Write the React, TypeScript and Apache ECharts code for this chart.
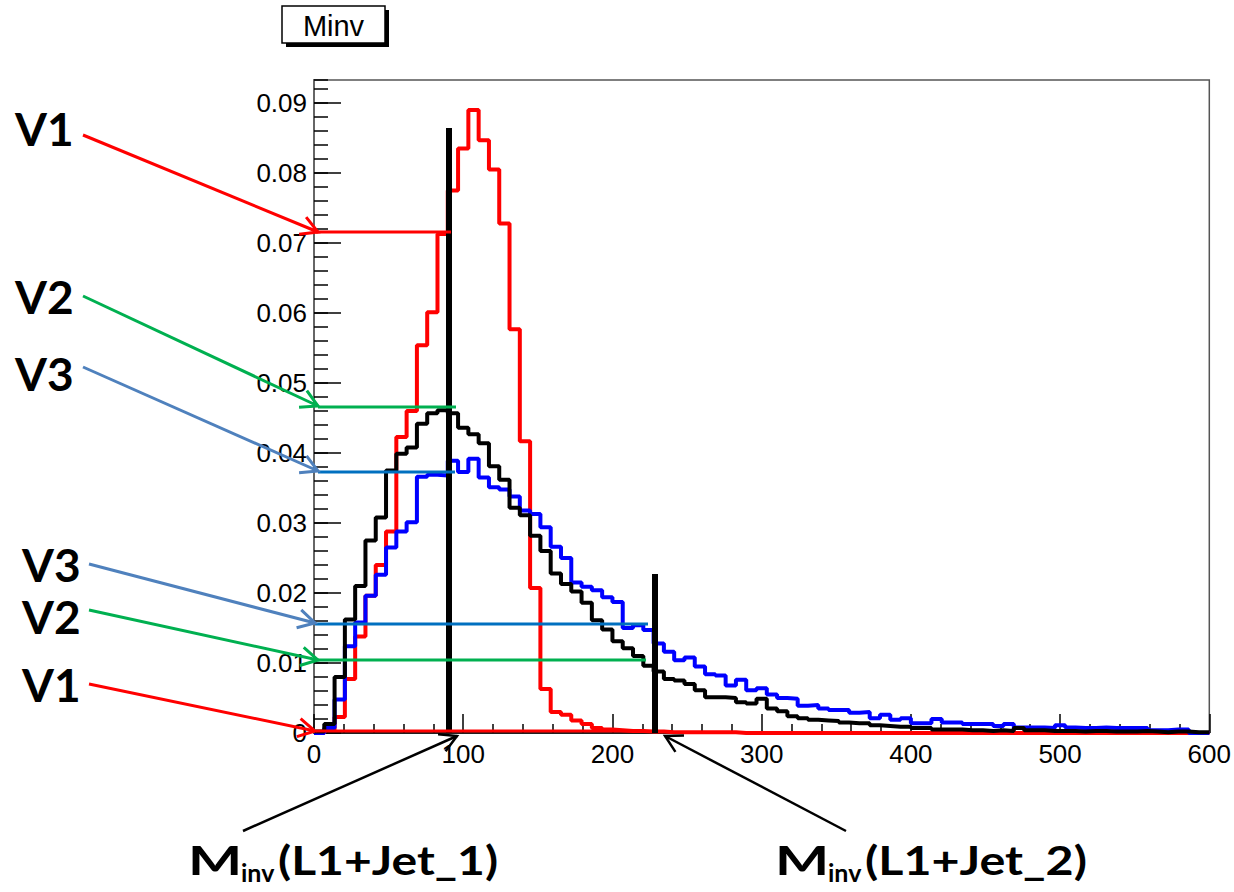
import React, { useEffect, useRef } from "react";
import * as echarts from "echarts";

const X_MIN = 0;
const X_MAX = 600;
const Y_MAX = 0.0933;
const X_INTERVAL = 100;
const Y_INTERVAL = 0.01;
const Y_MINOR_INTERVAL = 0.002;

// Histogram bin contents (87 equal bins over 0..600)
const redValues = [
  0, 0.0005, 0.0023, 0.0077, 0.0138, 0.0196, 0.024, 0.0288, 0.0423, 0.046,
  0.0554, 0.0601, 0.0713, 0.0775, 0.0835, 0.089, 0.0847, 0.0805, 0.0728, 0.0577,
  0.0417, 0.0207, 0.0063, 0.003, 0.0026, 0.0018, 0.0013, 0.0007, 0.0005, 0.0004,
  0.0003, 0.0003, 0.0002, 0.0002, 0.0001, 0.0001, 0.0001, 0.0001, 0.0001, 0.0001,
  0.0001, 0, 0, 0, 0, 0, 0, 0, 0, 0,
  0, 0, 0, 0, 0, 0, 0, 0, 0, 0,
  0, 0, 0, 0, 0, 0, 0, 0, 0, 0,
  0, 0, 0, 0, 0, 0, 0, 0, 0, 0,
  0, 0, 0, 0, 0, 0, 0,
];

const blackValues = [
  0.0002, 0.0013, 0.008, 0.0162, 0.021, 0.0275, 0.0308, 0.0375, 0.0399, 0.0408,
  0.0442, 0.0457, 0.0461, 0.0457, 0.0436, 0.0427, 0.0414, 0.0381, 0.0362, 0.0322,
  0.0311, 0.0282, 0.026, 0.0228, 0.0213, 0.0202, 0.0186, 0.0161, 0.0148, 0.0131,
  0.0121, 0.011, 0.0096, 0.0088, 0.0077, 0.0075, 0.007, 0.0061, 0.0051, 0.0051,
  0.005, 0.0044, 0.0042, 0.0049, 0.0035, 0.0031, 0.0024, 0.0021, 0.0019, 0.0018,
  0.0017, 0.0015, 0.0014, 0.0014, 0.0011, 0.001, 0.0009, 0.0009, 0.0007, 0.0007,
  0.0005, 0.0005, 0.0005, 0.0004, 0.0004, 0.0003, 0.0004, 0.0003, 0.0007, 0.0004,
  0.0004, 0.0003, 0.0003, 0.0003, 0.0002, 0.0003, 0.0003, 0.0002, 0.0002, 0.0002,
  0.0003, 0.0002, 0.0001, 0.0002, 0.0002, 0.0001, 0.0001,
];

const blueValues = [
  0, 0.0007, 0.0048, 0.0124, 0.0158, 0.0196, 0.0226, 0.0265, 0.0288, 0.0301,
  0.0366, 0.0369, 0.0368, 0.0389, 0.0373, 0.0392, 0.0365, 0.0351, 0.0348, 0.0338,
  0.0318, 0.0313, 0.0294, 0.0266, 0.025, 0.0215, 0.0209, 0.0204, 0.0194, 0.0187,
  0.015, 0.0154, 0.0147, 0.0128, 0.0116, 0.0104, 0.0108, 0.0095, 0.0084, 0.0082,
  0.0068, 0.0076, 0.0061, 0.0064, 0.0055, 0.005, 0.0049, 0.0039, 0.004, 0.0035,
  0.0033, 0.0033, 0.0029, 0.003, 0.0021, 0.0026, 0.0019, 0.0021, 0.0014, 0.0014,
  0.002, 0.0015, 0.0015, 0.0013, 0.0013, 0.0013, 0.001, 0.0013, 0.0008, 0.0008,
  0.0008, 0.0007, 0.0011, 0.0008, 0.0007, 0.0007, 0.0008, 0.0007, 0.0007, 0.0007,
  0.0007, 0.0004, 0.0004, 0.0005, 0.0005, 0, 0,
];

function histogram(values: number[]) {
  const w = (X_MAX - X_MIN) / values.length;
  const pts: number[][] = values.map((v, i) => [X_MIN + i * w, v]);
  pts.push([X_MAX, values[values.length - 1]]);
  return pts;
}

function arrow(x1: number, y1: number, x2: number, y2: number, color: string, width: number) {
  const ang = Math.atan2(y2 - y1, x2 - x1);
  const L = 19;
  const a = (29 * Math.PI) / 180;
  const p1 = [x2 - L * Math.cos(ang - a), y2 - L * Math.sin(ang - a)];
  const p2 = [x2 - L * Math.cos(ang + a), y2 - L * Math.sin(ang + a)];
  return [
    { type: "line", z: 100, shape: { x1, y1, x2, y2 }, style: { stroke: color, lineWidth: width } },
    { type: "polyline", z: 100, shape: { points: [p1, [x2, y2], p2] }, style: { stroke: color, lineWidth: width, fill: null } },
  ];
}

function hline(x1: number, x2: number, y: number, color: string, width: number) {
  return { type: "line", z: 100, shape: { x1, y1: y, x2, y2: y }, style: { stroke: color, lineWidth: width } };
}

function vlabel(text: string, x: number, y: number) {
  return {
    type: "text",
    z: 100,
    x,
    y,
    style: { text, fill: "#000", fontFamily: "Lato", fontWeight: "bold", fontSize: 46, align: "left", verticalAlign: "middle" },
  };
}

function minvLabel(x: number, parenX: number, parenScale: number, paren: string) {
  return [
    {
      type: "text", z: 100, x, y: 859, scaleX: 1.4,
      style: { text: "M", fill: "#000", fontFamily: "Lato", fontWeight: "bold", fontSize: 41, align: "left", verticalAlign: "middle" },
    },
    {
      type: "text", z: 100, x: x + 53, y: 872,
      style: { text: "inv", fill: "#000", fontFamily: "Lato", fontWeight: "bold", fontSize: 25, align: "left", verticalAlign: "middle" },
    },
    {
      type: "text", z: 100, x: parenX, y: 859, scaleX: parenScale,
      style: { text: paren, fill: "#000", fontFamily: "Lato", fontWeight: "bold", fontSize: 41, align: "left", verticalAlign: "middle" },
    },
  ];
}

const RED = "#ff0000";
const GREEN = "#00b050";
const STEEL = "#4f81bd";
const DBLUE = "#0070c0";

export default function App() {
  const ref = useRef<HTMLDivElement>(null);
  useEffect(() => {
    if (!ref.current) return;
    const chart = echarts.init(ref.current, undefined, { renderer: "svg" });
    const labelFont = { fontFamily: "Liberation Sans", fontSize: 26, color: "#000" };

    const graphics: any[] = [
      // title box
      { type: "rect", z: 100, shape: { x: 286, y: 10, width: 103, height: 37 }, style: { fill: "#000" } },
      { type: "rect", z: 101, shape: { x: 282, y: 6, width: 103, height: 37 }, style: { fill: "#fff", stroke: "#000", lineWidth: 1.5 } },
      {
        type: "text", z: 102, x: 333.5, y: 26,
        style: { text: "Minv", fill: "#000", fontFamily: "Liberation Sans", fontSize: 29, align: "center", verticalAlign: "middle" },
      },
      // vertical markers
      { type: "line", z: 100, shape: { x1: 449, y1: 128, x2: 449, y2: 733 }, style: { stroke: "#000", lineWidth: 6 } },
      { type: "line", z: 100, shape: { x1: 655, y1: 574, x2: 655, y2: 733 }, style: { stroke: "#000", lineWidth: 6 } },
      // horizontal reference lines
      hline(316, 451, 232, RED, 3),
      hline(318, 456, 407, GREEN, 3),
      hline(318, 455, 472, DBLUE, 3),
      hline(315, 648, 624, DBLUE, 3),
      hline(318, 646, 660, GREEN, 3),
      hline(316, 645, 731, RED, 3),
      // arrows
      ...arrow(83, 135, 318, 232, RED, 3),
      ...arrow(83, 296, 318, 406, GREEN, 3),
      ...arrow(83, 367, 318, 471, STEEL, 3),
      ...arrow(89, 564, 315, 623, STEEL, 3),
      ...arrow(89, 610, 318, 660, GREEN, 3),
      ...arrow(89, 684, 315, 731, RED, 3),
      ...arrow(243, 831, 457, 736, "#000", 2.5),
      ...arrow(846, 831, 665, 736, "#000", 2.5),
      // labels
      vlabel("V1", 15, 128.5),
      vlabel("V2", 15, 296.5),
      vlabel("V3", 15, 373.5),
      vlabel("V3", 22, 564),
      vlabel("V2", 22, 616.5),
      vlabel("V1", 22, 684),
      ...minvLabel(188, 278, 1.17, "(L1+Jet_1)"),
      ...minvLabel(775, 865, 1.18, "(L1+Jet_2)"),
    ];

    const lineSeries = (name: string, values: number[], color: string) => ({
      name,
      type: "line",
      step: "end",
      data: histogram(values),
      showSymbol: false,
      symbol: "none",
      clip: true,
      lineStyle: { color, width: 4 },
      itemStyle: { color },
    });

    chart.setOption({
      animation: false,
      backgroundColor: "#fff",
      grid: { left: 314, right: 21, top: 80, bottom: 159, show: true, borderColor: "#555", borderWidth: 1.5, backgroundColor: "transparent" },
      xAxis: {
        type: "value",
        min: X_MIN,
        max: X_MAX,
        interval: X_INTERVAL,
        axisLine: { show: true, onZero: false, lineStyle: { color: "#000", width: 1.5 } },
        axisTick: { show: true, inside: true, length: 19, lineStyle: { color: "#000", width: 1.5 } },
        minorTick: { show: true, splitNumber: 5, length: 9, lineStyle: { color: "#000", width: 1.5 } },
        axisLabel: { ...labelFont, margin: 8, formatter: (v: number) => String(Math.round(v)) },
        splitLine: { show: false },
        minorSplitLine: { show: false },
      },
      yAxis: [
        {
          type: "value",
          min: 0,
          max: Y_MAX,
          interval: Y_INTERVAL,
          axisLine: { show: true, onZero: false, lineStyle: { color: "#666", width: 2 } },
          axisTick: { show: true, inside: true, length: 27, lineStyle: { color: "#000", width: 1.5 } },
          axisLabel: {
            ...labelFont,
            margin: 7,
            showMaxLabel: false,
            formatter: (v: number) => (v === 0 ? "0" : v.toFixed(2)),
          },
          splitLine: { show: false },
        },
        {
          type: "value",
          position: "left",
          min: 0,
          max: Y_MAX,
          interval: Y_MINOR_INTERVAL,
          axisLine: { show: false },
          axisTick: { show: true, inside: true, length: 14, lineStyle: { color: "#000", width: 1.5 } },
          axisLabel: { show: false },
          splitLine: { show: false },
        },
      ],
      series: [
        lineSeries("red", redValues, "#ff0000"),
        lineSeries("blue", blueValues, "#0000ff"),
        lineSeries("black", blackValues, "#000000"),
      ],
      graphic: { elements: graphics },
    });
    return () => chart.dispose();
  }, []);
  return <div ref={ref} style={{ position: "absolute", left: 0, top: 0, width: 1234, height: 892 }} />;
}
